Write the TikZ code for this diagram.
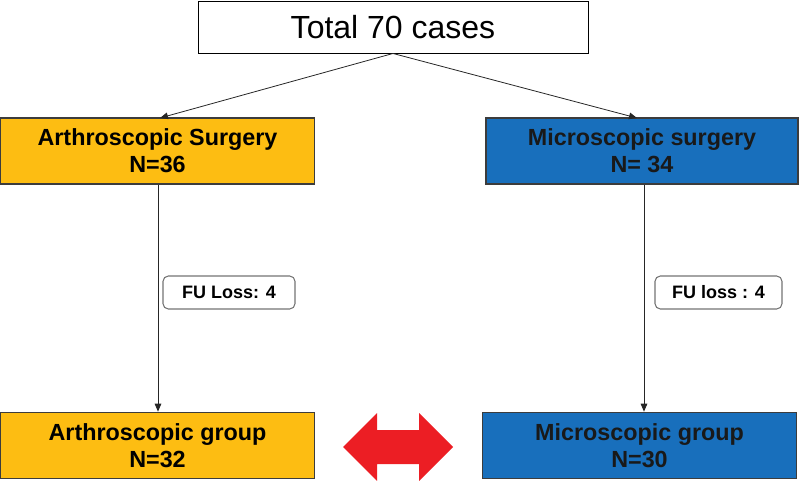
\documentclass[tikz,border=0pt]{standalone}
\usepackage{fontspec}
\setmainfont{Liberation Sans}
\usetikzlibrary{arrows.meta}
\definecolor{orng}{RGB}{253,189,18}
\definecolor{blu}{RGB}{24,111,188}
\definecolor{redarr}{RGB}{236,30,36}
\definecolor{bord}{RGB}{60,60,60}
\tikzset{
  topbox/.style={draw=black, line width=0.7pt, minimum width=292.5pt, minimum height=39pt, inner sep=0pt, font=\fontsize{24}{28}\selectfont},
  grpbox/.style={draw=bord, line width=0.8pt, minimum width=236pt, inner sep=0pt, align=center, font=\fontsize{17.5}{20}\selectfont\bfseries},
  orbox/.style={grpbox, fill=orng},
  blbox/.style={grpbox, fill=blu, text=black!90},
  fubox/.style={draw=black!55, line width=0.8pt, rounded corners=4pt, minimum height=24.75pt, inner sep=0pt, font=\fontsize{13.5}{16}\selectfont\bfseries},
  conn/.style={draw=black!85, line width=0.6pt, -{Triangle[length=6pt,width=5pt]}},
}
\begin{document}
\begin{tikzpicture}[x=0.75pt, y=-0.75pt]
\useasboundingbox (0,0) rectangle (800,481);
\node[topbox] (top) at (393,27) {Total 70 cases};
\node[orbox, minimum height=49.5pt] (as) at (157.5,151) {Arthroscopic Surgery\\N=36};
\node[blbox, minimum width=234pt, minimum height=49.5pt] (ms) at (642,151) {Microscopic surgery\\N= 34};
\node[fubox, minimum width=99pt] (fl) at (229,292.5) {FU Loss: 4};
\node[fubox, minimum width=95.25pt] (fr) at (718.5,292.5) {FU loss : 4};
\node[orbox, minimum height=50pt] (ag) at (157.5,445.5) {Arthroscopic group\\N=32};
\node[blbox, minimum height=50pt] (mg) at (639.5,445.5) {Microscopic group\\N=30};
\coordinate (ta) at (160,118);
\coordinate (tb) at (637,118);
\coordinate (lx) at (158,0);
\coordinate (rx) at (644,0);
\draw[conn] (top.south) -- (ta);
\draw[conn] (top.south) -- (tb);
\draw[conn] (as.south -| lx) -- (ag.north -| lx);
\draw[conn] (ms.south -| rx) -- (mg.north -| rx);
\fill[redarr] (343,447) -- (377,413) -- (377,430) -- (419,430) -- (419,413) -- (453,447) -- (419,481) -- (419,464) -- (377,464) -- (377,481) -- cycle;
\end{tikzpicture}
\end{document}
